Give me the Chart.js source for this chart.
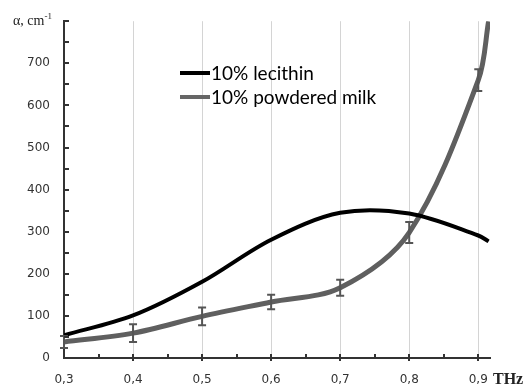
<!DOCTYPE html>
<html lang="en">
<head>
  <meta charset="UTF-8">
  <title>Absorption coefficient</title>
  <script src="https://cdn.jsdelivr.net/npm/chart.js"></script>
  <style>
    * { margin: 0; padding: 0; box-sizing: border-box; }
    body { background: #fff; width: 529px; height: 387px; overflow: hidden; }
    .chart-box { position: relative; width: 529px; height: 387px; }
  </style>
</head>
<body>
  <div class="chart-box">
    <canvas id="absChart" width="529" height="387"></canvas>
  </div>

  <script>
    // frequency, THz
    const freqs = [0.3, 0.4, 0.5, 0.6, 0.7, 0.8, 0.9, 0.915];
    const lecithin = [54, 101, 181, 281, 345, 343, 291, 277];
    const milk = [38, 59, 99, 133, 167, 298, 660, 800];
    const milkErr = [14, 21, 21, 17, 19, 25, 26, null];

    const xTicks = [0.3, 0.35, 0.4, 0.45, 0.5, 0.55, 0.6, 0.65, 0.7, 0.75, 0.8, 0.85, 0.9];
    const xLabels = ['0,3', '0,4', '0,5', '0,6', '0,7', '0,8', '0,9'];
    const yLabels = [0, 100, 200, 300, 400, 500, 600, 700];
    const seriesNames = ['10% lecithin', '10% powdered milk'];

    const isMajorX = v => Math.abs(v * 10 - Math.round(v * 10)) < 1e-6;

    // error bars on the milk curve
    const errorBars = {
      id: 'errorBars',
      afterDatasetsDraw(chart) {
        const ctx = chart.ctx;
        const xs = chart.scales.x, ys = chart.scales.y;
        ctx.save();
        ctx.strokeStyle = '#555';
        ctx.lineWidth = 2;
        milk.forEach((v, i) => {
          if (milkErr[i] == null) return;
          const x = xs.getPixelForValue(freqs[i]);
          const y1 = ys.getPixelForValue(v - milkErr[i]);
          const y2 = ys.getPixelForValue(v + milkErr[i]);
          ctx.beginPath();
          ctx.moveTo(x, y1); ctx.lineTo(x, y2);
          ctx.moveTo(x - 4, y1); ctx.lineTo(x + 4, y1);
          ctx.moveTo(x - 4, y2); ctx.lineTo(x + 4, y2);
          ctx.stroke();
        });
        ctx.restore();
      }
    };

    // tick marks on the inner side of the axes, legend inside the plot, axis titles
    const extras = {
      id: 'extras',
      afterDraw(chart) {
        const ctx = chart.ctx;
        const xs = chart.scales.x, ys = chart.scales.y;
        const area = chart.chartArea;
        ctx.save();

        ctx.strokeStyle = '#333';
        ctx.lineWidth = 2;
        ctx.beginPath();
        ys.ticks.forEach(t => {
          const y = Math.round(ys.getPixelForValue(t.value));
          ctx.moveTo(area.left, y); ctx.lineTo(area.left + 5, y);
        });
        xs.ticks.forEach(t => {
          if (t.value < 0.31) return;
          const x = Math.round(xs.getPixelForValue(t.value));
          const down = isMajorX(t.value) ? 3 : 0;
          ctx.moveTo(x, area.bottom - 4); ctx.lineTo(x, area.bottom + down);
        });
        ctx.stroke();

        const colors = ['#000', '#666'];
        ctx.textAlign = 'left';
        seriesNames.forEach((name, i) => {
          const y = 73 + i * 24;
          ctx.strokeStyle = colors[i];
          ctx.lineWidth = 4;
          ctx.beginPath();
          ctx.moveTo(180, y); ctx.lineTo(210, y);
          ctx.stroke();
          ctx.fillStyle = '#000';
          ctx.font = '19px Lato, "Noto Sans", sans-serif';
          ctx.textBaseline = 'middle';
          ctx.fillText(name, 211, y + 1);
        });

        ctx.fillStyle = '#222';
        ctx.textBaseline = 'alphabetic';
        ctx.font = '14px "Liberation Serif", serif';
        ctx.fillText('α, cm', 13, 25);
        const w = ctx.measureText('α, cm').width;
        ctx.font = '9px "Liberation Serif", serif';
        ctx.fillText('-1', 13 + w, 19);

        ctx.font = 'bold 16px "Liberation Serif", serif';
        ctx.fillText('THz', 493, 384);
        ctx.restore();
      }
    };

    const ctx = document.getElementById('absChart').getContext('2d');
    new Chart(ctx, {
      type: 'line',
      data: {
        datasets: [
          {
            label: seriesNames[0],
            data: freqs.map((f, i) => ({ x: f, y: lecithin[i] })),
            borderColor: '#000',
            borderWidth: 4,
            tension: 0.33,
            pointRadius: 0,
            fill: false
          },
          {
            label: seriesNames[1],
            data: freqs.map((f, i) => ({ x: f, y: milk[i] })),
            borderColor: '#5f5f5f',
            borderWidth: 5,
            tension: 0.33,
            pointRadius: 0,
            fill: false
          }
        ]
      },
      options: {
        responsive: false,
        animation: false,
        layout: { padding: { top: 16, right: 39, left: 0, bottom: 0 } },
        plugins: {
          legend: { display: false },
          tooltip: { enabled: false }
        },
        scales: {
          x: {
            type: 'linear',
            min: 0.3,
            max: 0.917,
            afterBuildTicks: s => { s.ticks = xTicks.map(v => ({ value: v })); },
            afterFit: s => { s.height = 29; },
            border: { color: '#333', width: 2 },
            grid: {
              color: c => (isMajorX(c.tick.value) && c.tick.value > 0.31) ? '#d4d4d4' : 'rgba(0,0,0,0)',
              drawTicks: false,
              lineWidth: 1
            },
            ticks: {
              autoSkip: false,
              maxRotation: 0,
              padding: 15,
              color: '#333',
              font: { family: '"DejaVu Sans", Verdana, sans-serif', size: 12 },
              callback: v => isMajorX(v) ? xLabels[Math.round(v * 10) - 3] : ''
            }
          },
          y: {
            min: 0,
            max: 800,
            afterFit: s => { s.width = 64; },
            border: { color: '#333', width: 2 },
            grid: {
              drawOnChartArea: false,
              drawTicks: false
            },
            ticks: {
              stepSize: 50,
              padding: 14,
              color: '#333',
              font: { family: '"DejaVu Sans", Verdana, sans-serif', size: 12 },
              callback: v => yLabels.includes(v) ? String(v) : ''
            }
          }
        }
      },
      plugins: [errorBars, extras]
    });
  </script>
</body>
</html>
